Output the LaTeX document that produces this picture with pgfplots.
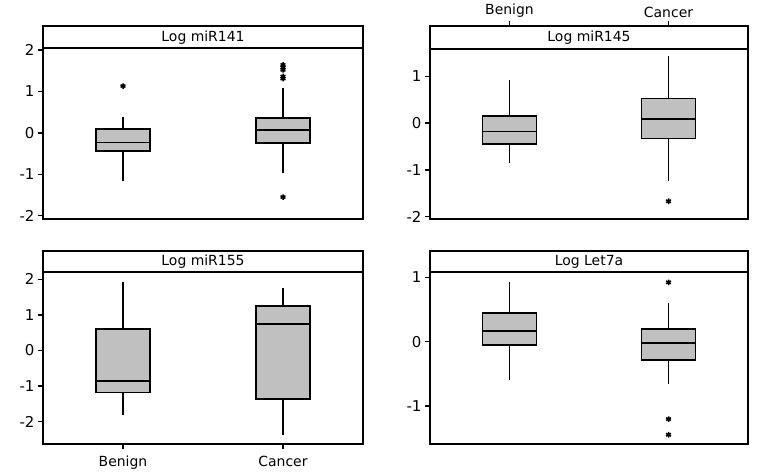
\documentclass[border=0pt]{standalone}
\usepackage{fontspec}
\setmainfont{DejaVu Sans}
\usepackage{pgfplots}
\pgfplotsset{compat=1.18}
\usepgfplotslibrary{statistics}
\definecolor{boxgray}{RGB}{192,192,192}

\pgfplotsset{
  panel/.style={
    scale only axis,
    anchor=south west,
    width=320bp, height=193bp,
    xmin=0.5, xmax=2.5,
    xtick=\empty,
    ytick pos=left,
    tick align=outside,
    major tick length=5bp,
    tick style={black, line width=1.5bp},
    axis line style={line width=1.8bp},
    xticklabel style={font=\fontsize{14}{16}\selectfont},
    yticklabel style={font=\fontsize{15}{17}\selectfont},
    /pgf/number format/assume math mode=true,
    boxplot/draw direction=y,
    boxplot/every whisker/.style={line width=1.7bp, black},
    boxplot/every median/.style={line width=1.7bp, black},
    clip=false,
  },
  bx/.style={
    boxplot prepared={#1, box extend=0.34, whisker extend=0},
    fill=boxgray, draw=black, line width=1.7bp,
    mark=asterisk, mark size=2.8pt, mark options={line width=1.5bp, black},
  },
}
\tikzset{hdr/.style={font=\fontsize{14}{16}\selectfont}}

\begin{document}
\begin{tikzpicture}
\path[use as bounding box] (0,0) rectangle (766bp,475bp);

% top left
\begin{axis}[panel, at={(43bp,256bp)},
    ymin=-2.08, ymax=2.58, ytick={-2,-1,0,1,2}]
\addplot[bx={draw position=1, lower whisker=-1.157, lower quartile=-0.442,
    median=-0.233, upper quartile=0.096, upper whisker=0.378}]
    table[row sep=\\, y index=0] {1.13\\};
\addplot[bx={draw position=2, lower whisker=-0.964, lower quartile=-0.249,
    median=0.064, upper quartile=0.361, upper whisker=1.076}]
    table[row sep=\\, y index=0] {1.64\\ 1.58\\ 1.52\\ 1.36\\ 1.31\\ -1.55\\};
\draw[line width=1.8bp] (axis cs:0.5,2.04) -- (axis cs:2.5,2.04);
\node[hdr] at (axis cs:1.5,2.31) {Log miR141};
\end{axis}

% top right
\begin{axis}[panel, at={(430bp,256bp)}, width=318bp,
    ymin=-2.05, ymax=2.08, ytick={-2,-1,0,1},
    xtick={1,2}, xticklabels={Benign,Cancer},
    xtick pos=right, xticklabel pos=right]
\addplot[bx={draw position=1, lower whisker=-0.846, lower quartile=-0.448,
    median=-0.178, upper quartile=0.149, upper whisker=0.924}]
    coordinates {};
\addplot[bx={draw position=2, lower whisker=-1.237, lower quartile=-0.327,
    median=0.085, upper quartile=0.526, upper whisker=1.43}]
    table[row sep=\\, y index=0] {-1.67\\};
\draw[line width=1.8bp] (axis cs:0.5,1.59) -- (axis cs:2.5,1.59);
\node[hdr] at (axis cs:1.5,1.835) {Log miR145};
\end{axis}

% bottom left
\begin{axis}[panel, at={(43bp,31.3bp)}, height=192.4bp,
    ymin=-2.618, ymax=2.787, ytick={-2,-1,0,1,2},
    xtick={1,2}, xticklabels={Benign,Cancer},
    xtick pos=left, xticklabel pos=left,
    xticklabel style={yshift=-4bp}]
\addplot[bx={draw position=1, lower whisker=-1.813, lower quartile=-1.176,
    median=-0.857, upper quartile=0.604, upper whisker=1.934}]
    coordinates {};
\addplot[bx={draw position=2, lower whisker=-2.365, lower quartile=-1.372,
    median=0.754, upper quartile=1.26, upper whisker=1.747}]
    coordinates {};
\draw[line width=1.8bp] (axis cs:0.5,2.197) -- (axis cs:2.5,2.197);
\node[hdr] at (axis cs:1.5,2.492) {Log miR155};
\end{axis}

% bottom right
\begin{axis}[panel, at={(430bp,31.3bp)}, width=318bp, height=192.4bp,
    ymin=-1.585, ymax=1.404, ytick={-1,0,1}]
\addplot[bx={draw position=1, lower whisker=-0.601, lower quartile=-0.047,
    median=0.161, upper quartile=0.446, upper whisker=0.933}]
    coordinates {};
\addplot[bx={draw position=2, lower whisker=-0.658, lower quartile=-0.285,
    median=-0.026, upper quartile=0.192, upper whisker=0.601}]
    table[row sep=\\, y index=0] {0.922\\ -1.202\\ -1.446\\};
\draw[line width=1.8bp] (axis cs:0.5,1.078) -- (axis cs:2.5,1.078);
\node[hdr] at (axis cs:1.5,1.241) {Log Let7a};
\end{axis}
\end{tikzpicture}
\end{document}
